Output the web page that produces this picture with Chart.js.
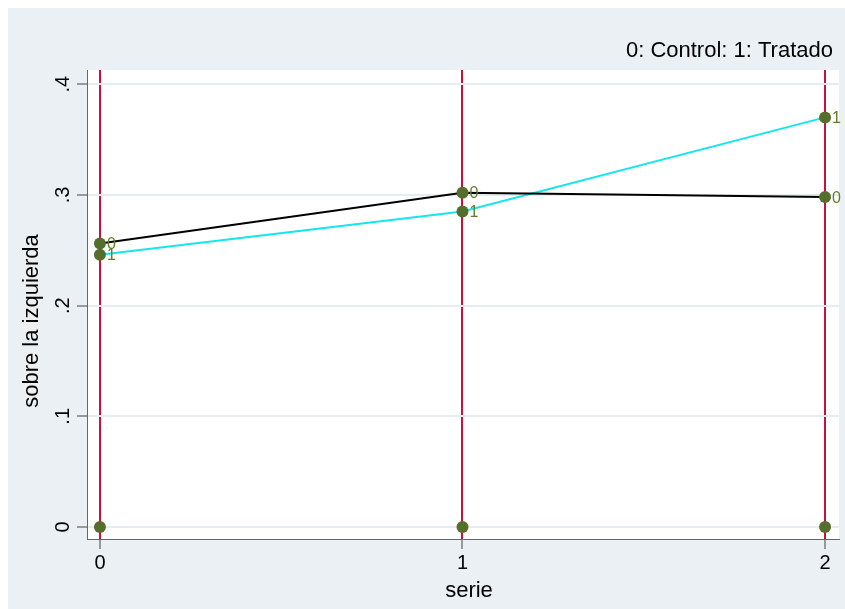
<!DOCTYPE html>
<html><head><meta charset="utf-8">
<script src="https://cdn.jsdelivr.net/npm/chart.js@4/dist/chart.umd.min.js"></script>
<style>html,body{margin:0;padding:0;background:#fff}canvas{display:block}</style>
</head><body>
<canvas id="c" width="845" height="609"></canvas>
<script>
const categories = [0, 1, 2];
const control = [0.256, 0.302, 0.298];
const tratado = [0.246, 0.285, 0.370];
const zeroSeries = [0, 0, 0];
const yTicks = [0, 0.1, 0.2, 0.3, 0.4];
const yTickLabels = ['0', '.1', '.2', '.3', '.4'];
const xTickLabels = ['0', '1', '2'];
const controlLabel = '0';
const tratadoLabel = '1';
const titleText = '0: Control: 1: Tratado';
const yTitle = 'sobre la izquierda';
const xTitle = 'serie';

const FONT = 'Arial, "Liberation Sans", sans-serif';
const MARK = '#566e2c';
const LABEL = '#5f7d2a';

const pts = arr => categories.map((x, i) => ({x: x, y: arr[i]}));

const bgPlugin = {
  id: 'bg',
  beforeDraw(chart) {
    const ctx = chart.ctx, a = chart.chartArea;
    ctx.save();
    ctx.fillStyle = '#ffffff';
    ctx.fillRect(0, 0, chart.width, chart.height);
    ctx.fillStyle = '#eaf0f3';
    ctx.fillRect(8, 8, chart.width - 8, chart.height - 8);
    ctx.fillStyle = '#ffffff';
    ctx.fillRect(a.left, a.top, a.right - a.left, a.bottom - a.top);
    ctx.restore();
  }
};

const textPlugin = {
  id: 'texts',
  afterDatasetsDraw(chart) {
    const ctx = chart.ctx;
    ctx.save();
    ctx.font = '16px ' + FONT;
    ctx.fillStyle = LABEL;
    ctx.textAlign = 'left';
    ctx.textBaseline = 'middle';
    chart.data.datasets.forEach((ds, di) => {
      if (!ds.pointLabel) return;
      const meta = chart.getDatasetMeta(di);
      meta.data.forEach(p => {
        ctx.fillText(ds.pointLabel, p.x + 7, p.y + 1);
      });
    });
    ctx.restore();
  },
  afterDraw(chart) {
    const ctx = chart.ctx, a = chart.chartArea;
    const xs = chart.scales.x, ys = chart.scales.y;
    ctx.save();
    ctx.fillStyle = '#000';
    // title
    ctx.font = '22px ' + FONT;
    ctx.textAlign = 'right';
    ctx.textBaseline = 'alphabetic';
    ctx.fillText(titleText, 833, 57);
    // y tick labels rotated
    ctx.font = '20px ' + FONT;
    yTicks.forEach((v, i) => {
      const py = ys.getPixelForValue(v);
      ctx.save();
      ctx.translate(63, py);
      ctx.rotate(-Math.PI / 2);
      ctx.textAlign = 'center';
      ctx.textBaseline = 'middle';
      ctx.fillText(yTickLabels[i], 0, 0);
      ctx.restore();
    });
    // x tick labels
    ctx.textAlign = 'center';
    ctx.textBaseline = 'middle';
    categories.forEach((v, i) => {
      ctx.fillText(xTickLabels[i], xs.getPixelForValue(v), 563);
    });
    // axis titles
    ctx.font = '22px ' + FONT;
    ctx.fillText(xTitle, (a.left + a.right) / 2 + 6, 591);
    ctx.save();
    ctx.translate(32, 321);
    ctx.rotate(-Math.PI / 2);
    ctx.fillText(yTitle, 0, 0);
    ctx.restore();
    ctx.restore();
  }
};

new Chart(document.getElementById('c'), {
  type: 'scatter',
  data: {
    datasets: [
      {label: 'zero', data: pts(zeroSeries), showLine: false,
       pointRadius: 6, pointBackgroundColor: MARK, pointBorderWidth: 0},
      {label: 'Control', data: pts(control), showLine: true, borderColor: '#000000', borderWidth: 2,
       pointRadius: 6, pointBackgroundColor: MARK, pointBorderWidth: 0, pointLabel: controlLabel},
      {label: 'Tratado', data: pts(tratado), showLine: true, borderColor: '#14e6ee', borderWidth: 2,
       pointRadius: 6, pointBackgroundColor: MARK, pointBorderWidth: 0, pointLabel: tratadoLabel}
    ]
  },
  options: {
    responsive: false,
    devicePixelRatio: 1,
    animation: false,
    layout: {padding: {left: 77, top: 70, right: 3, bottom: 60}},
    plugins: {legend: {display: false}, tooltip: {enabled: false}, title: {display: false}},
    scales: {
      x: {
        type: 'linear', min: -0.0357, max: 2.0385,
        afterBuildTicks: s => { s.ticks = categories.map(v => ({value: v})); },
        ticks: {display: false},
        grid: {color: '#c8103c', lineWidth: 2, tickColor: '#444', tickLength: 10, tickWidth: 1},
        border: {display: true, color: '#666', width: 1}
      },
      y: {
        type: 'linear', min: -0.0108, max: 0.4128,
        afterBuildTicks: s => { s.ticks = yTicks.map(v => ({value: v})); },
        ticks: {display: false},
        grid: {color: '#e6edf1', lineWidth: 2, tickColor: '#444', tickLength: 10, tickWidth: 1},
        border: {display: true, color: '#666', width: 1}
      }
    }
  },
  plugins: [bgPlugin, textPlugin]
});
</script>
</body></html>
